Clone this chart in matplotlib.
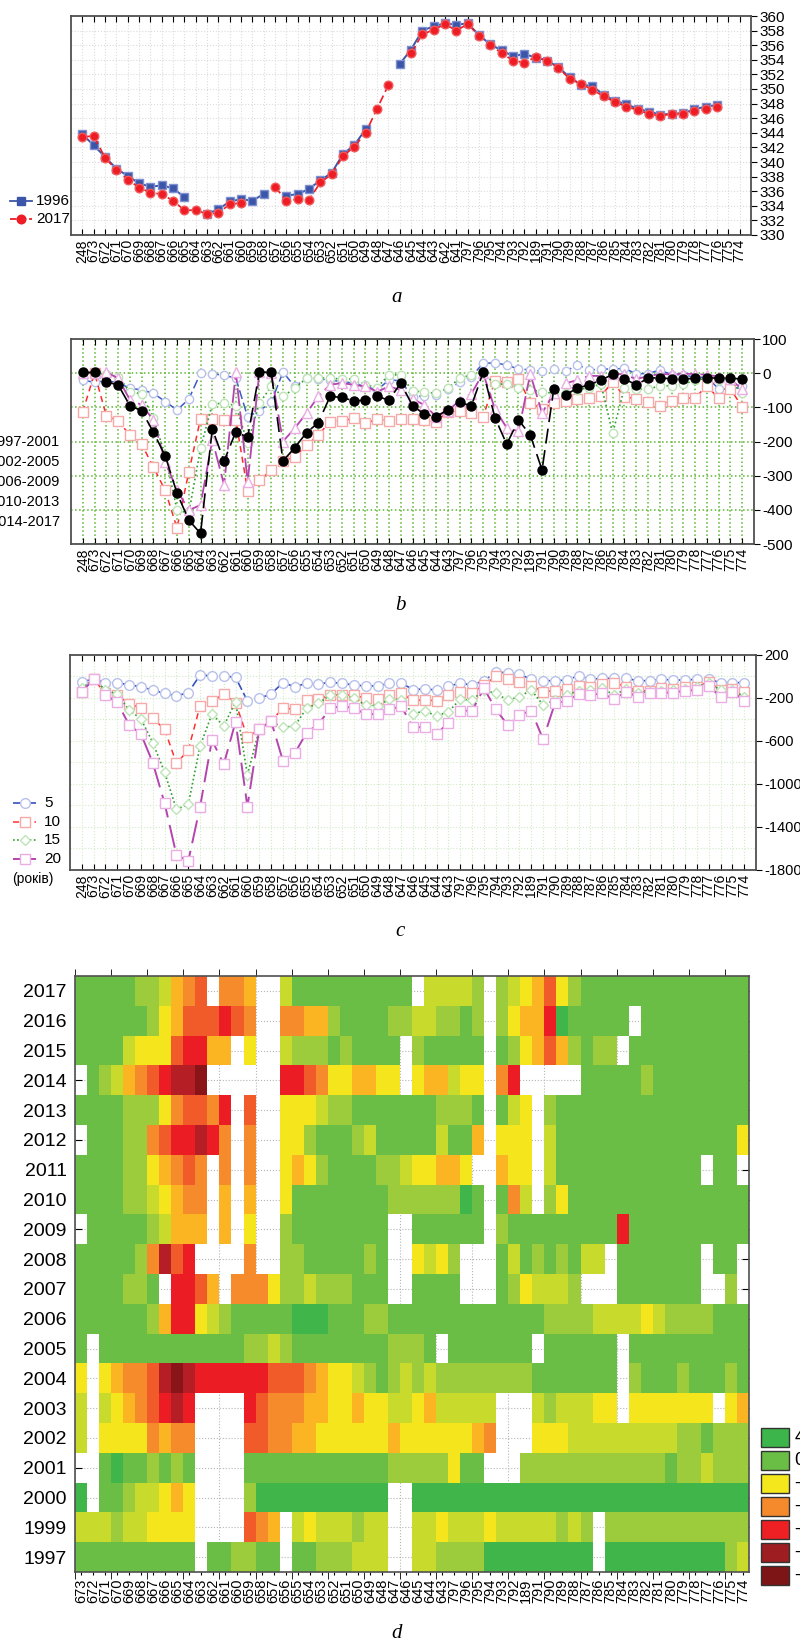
import numpy as np
import matplotlib.pyplot as plt
from matplotlib.colors import LinearSegmentedColormap
from matplotlib.lines import Line2D
from matplotlib.patches import Rectangle

nan = np.nan
W, H = 800, 1643

# benchmark labels along the levelling line
stations = ['248', '673', '672', '671', '670', '669', '668', '667', '666', '665',
            '664', '663', '662', '661', '660', '659', '658', '657', '656', '655',
            '654', '653', '652', '651', '650', '649', '648', '647', '646', '645',
            '644', '643', '797', '796', '795', '794', '793', '792', '189', '791',
            '790', '789', '788', '787', '786', '785', '784', '783', '782', '781',
            '780', '779', '778', '777', '776', '775', '774']
stations_a = stations[:32] + ['642', '641'] + stations[32:]

# panel a: heights, m
h1996 = [343.8, 342.3, 340.7, 339.1, 338.1, 337.1, 336.6, 336.8, 336.4, 335.2,
         nan, 332.9, 333.5, 334.6, 334.9, 334.7, 335.6, nan, 335.4, 335.6,
         336.3, 337.5, 338.5, 341.1, 342.3, 344.5, nan, nan, 353.4, 355.4,
         358.0, 358.6, 359.0, 358.8, 359.0, 357.4, 356.1, 355.3, 354.5, 354.8,
         354.3, 353.9, 353.0, 351.6, 350.6, 350.4, 349.2, 348.4, 347.9, 347.3,
         346.9, 346.5, 346.6, 346.7, 347.2, 347.6, 347.8]
h2017 = [343.4, 343.6, 340.6, 338.9, 337.6, 336.5, 335.8, 335.6, 334.7, 333.4,
         333.4, 332.9, 333.0, 334.2, 334.4, nan, nan, 336.6, 334.7, 334.9,
         334.8, 337.2, 338.3, 340.8, 342.1, 344.0, 347.3, 350.5, nan, 354.9,
         357.5, 358.1, 358.9, 358.0, 358.9, 357.3, 356.0, 354.9, 353.9, 353.6,
         354.4, 353.9, 352.9, 351.4, 350.7, 349.9, 349.0, 348.2, 347.6, 347.1,
         346.6, 346.3, 346.6, 346.6, 347.0, 347.2, 347.6]

# panel b: changes by period, mm
b_labels = ['1997-2001', '2002-2005', '2006-2009', '2010-2013', '2014-2017']
b_9701 = [-20, -27, -22, -28, -44, -49, -59, -83, -108, -76,
          0, -2, -6, -15, -128, -110, -85, 3, -39, -15,
          -17, -20, -25, -29, -39, -49, -20, -22, -70, -66,
          -63, -47, -27, -10, 29, 30, 24, 12, 10, 5,
          11, 5, 25, 9, 12, 12, 14, -2, -1, 9,
          -4, -5, -12, -12, -46, -47, -39]
b_0205 = [-113, 0, -125, -140, -181, -208, -275, -343, -453, -290,
          -133, -135, -137, -137, -344, -314, -284, -257, -245, -211,
          -181, -142, -140, -132, -147, -135, -139, -135, -135, -137,
          -142, -113, -111, -116, -127, -24, -25, -17, -86, -105,
          -87, -80, -75, -74, -66, -26, -69, -75, -83, -95,
          -80, -74, -72, -37, -74, -46, -99]
b_0609 = [-3, 0, -3, -10, -54, -61, -132, -240, -400, -410,
          -220, -90, -88, -95, -205, -88, -39, -68, -44, -15,
          -13, -15, -17, -17, -34, -42, -5, -5, -52, -55,
          -59, -44, -15, -5, 0, -32, -32, -42, -48, -55,
          -59, -59, -49, -42, -32, -176, -42, -47, -47, -37,
          -37, -33, -20, -16, -20, -20, -58]
b_1013 = [0, 0, 3, -15, -78, -93, -137, -259, -342, -401,
          -386, -195, -327, 3, -318, 3, 0, -200, -161, -117,
          -68, -34, -29, -34, -39, -54, -39, -49, -75, -93,
          -127, -110, -80, -60, 0, -105, -160, -170, -2, -117,
          -58, -30, -20, -8, -8, -2, -3, -18, -8, -3,
          -3, -2, -2, -5, -10, -18, -47]
b_1417 = [3, 2, -26, -34, -95, -110, -173, -242, -351, -430,
          -469, -164, -257, -171, -188, 3, 3, -257, -218, -174,
          -145, -68, -71, -81, -79, -68, -79, -29, -95, -120,
          -127, -107, -85, -96, 3, -130, -208, -137, -181, -283,
          -46, -63, -44, -34, -21, -3, -17, -34, -15, -13,
          -17, -17, -15, -13, -15, -15, -17]

# panel c: cumulative change over 5/10/15/20 years, mm
c_labels = ['5', '10', '15', '20']
c5 = [-48, -26, -57, -57, -79, -95, -126, -157, -181, -150,
      14, 5, 5, -8, -228, -203, -163, -57, -95, -64,
      -70, -54, -64, -79, -88, -88, -64, -60, -122, -116,
      -126, -88, -64, -79, -39, 39, 36, 20, -26, -39,
      -39, -33, 8, -26, -17, -17, -17, -39, -39, -26,
      -33, -33, -26, -26, -57, -57, -57]
c10 = [-141, -26, -157, -172, -256, -290, -389, -491, -808, -684,
       -271, -228, -166, -243, -566, -491, -414, -296, -302, -219,
       -212, -172, -172, -172, -203, -212, -172, -157, -222, -219,
       -225, -172, -141, -150, -79, 0, -26, -48, -88, -141,
       -132, -119, -88, -95, -70, -57, -95, -132, -132, -110,
       -119, -95, -95, -48, -126, -119, -141]
c15 = [-110, -26, -126, -166, -312, -395, -615, -891, -1236, -1189,
       -647, -349, -460, -234, -916, -491, -420, -473, -460, -296,
       -250, -172, -172, -203, -265, -274, -212, -215, -346, -321,
       -367, -327, -212, -219, -126, -157, -219, -188, -126, -265,
       -219, -172, -132, -126, -110, -172, -119, -150, -141, -132,
       -126, -119, -95, -57, -126, -126, -188]
c20 = [-141, -26, -172, -240, -451, -535, -802, -1180, -1660, -1716,
       -1211, -591, -817, -420, -1211, -491, -414, -783, -715, -522,
       -445, -296, -274, -296, -349, -349, -305, -278, -470, -473,
       -535, -429, -318, -318, -110, -305, -451, -358, -318, -584,
       -250, -228, -163, -172, -157, -212, -141, -188, -157, -150,
       -150, -132, -126, -88, -188, -141, -225]

# panel d: class of yearly change per benchmark ('.' = no data)
years = ['2017', '2016', '2015', '2014', '2013', '2012', '2011', '2010', '2009', '2008',
         '2007', '2006', '2005', '2004', '2003', '2002', '2001', '2000', '1999', '1997']
grid_rows = [
    "gggggllyoO" "r.OOo..ygg" "gggggggg.y" "yyyl.lyYor" "Ylgggggggg" "gggggg",
    "gggggglYor" "rrRrO..OOo" "olggggllyy" "llgl.lYooR" "Gggggg.ggg" "gggggg",
    "ggggyYYYrR" "Roo.Y..yll" "lglgggg.lg" "gggg.glYor" "olgll.gggg" "gggggg",
    ".glyoOrRdd" "D......RRr" "OYYooYY.Yo" "oyYY.OR..." "..ggggglgg" "gggggg",
    "gggglllYOr" "rOR.r..YYY" "yllggggggg" "lllg.gyY.l" "gggggggggg" "gggggg",
    ".gggllOrRR" "dRO.O..YYl" "ggglyggggg" "yggo.YYY.y" "gggggggggg" "gggggY",
    "ggggllYoOr" "O.O.O..YoY" "lggggllyYY" "ooY..oYY.y" "gggggggggg" "gg.gg.",
    "ggggllyYoO" "O.o.o..Ygg" "ggggggllll" "llGg.gOy.l" "Yggggggggg" "gggggg",
    ".ggggglyoo" "o.o.Y..lgg" "gggggg..gg" "gggg.lgggg" "gggggRgggg" "gggggg",
    "ggggglOdrR" "....O..llg" "gggglg..Yy" "Yl...gyglg" "lgyy.ggggg" "gg.gg.",
    "ggggllg.RR" "ro.OOOYlly" "lllggg..gg" "gg...glYyy" "yl...ggggg" "gg..l.",
    "ggggggloRR" "YylgggggGG" "Ggggllgggg" "gggggggggl" "lllyyyyYyl" "lllggg",
    "g.gggggggg" "ggggllylgg" "gggggglllg" ".ggggggg.g" "ggggg.gggg" "gggggg",
    "Y.YoOOrdDd" "RRRRRRrrrO" "oYYylglyly" "llllllllgg" "ggggg.lggg" "lggglg",
    "y.yYoOrRdR" "....RrOOOo" "oYYoYYyyYo" "yyyyy...yl" "yyyYY.YYYY" "YYY.Yo",
    "y.YYYYOoOO" "....rrOOoo" "YYYYYYoYYY" "YYYoO...YY" "Yyyyyyyyyy" "llglll",
    "..gGgglglg" "....gggggg" "ggggggllll" "lYgg...lll" "lllllllllg" "llylll",
    "G.gglyyYoY" "....lGGGGG" "GGGGGG..GG" "GGGGGGGGGG" "GGGGGGGGGG" "GGGGGG",
    "yyylyyYYYY" "....rOo.yY" "yyylyy..yy" "YyyyYyyyyy" "lyl.llllll" "llllll",
    "gggggggggg" ".ggllgg.gg" "lllyyy..yy" "llllGGGGGG" "GGG.GGGGGG" "GGGGly",
]
class_value = {'G': 4, 'g': 2, 'l': 1, 'y': 0, 'Y': -1, 'o': -1.5, 'O': -2,
               'r': -2.5, 'R': -3, 'd': -4, 'D': -5, '.': nan}
legend_d_colors = ['#3cb54a', '#6abd45', '#f4e81c', '#f58a2c', '#ee2024', '#9e1d20', '#7d1416']
legend_d_labels = ['4 – 8', '0 – 4', '-4 – 0', '-8 – -4', '-12 – -8', '-16 – -12', '-20 – -16']

REG = ['Liberation Sans', 'DejaVu Sans']
SERIF = ['Liberation Serif', 'DejaVu Serif']


def rect(l, t, r, b):
    return [l / W, 1 - b / H, (r - l) / W, (b - t) / H]


def fx(x):
    return x / W


def fy(y):
    return 1 - y / H


def line_axes(ax, labels, ylim, yticks, gcol, gls, glw, ysize=11):
    n = len(labels)
    ax.set_xlim(-1, n)
    ax.set_xticks(np.arange(n))
    ax.set_xticklabels(labels, rotation=90, fontfamily=REG, fontsize=10)
    ax.set_ylim(*ylim)
    ax.yaxis.tick_right()
    ax.set_yticks(yticks)
    ax.set_yticklabels([str(v) for v in yticks], fontfamily=REG, fontsize=ysize)
    ax.tick_params(axis='x', direction='in', length=4, top=True, bottom=True, pad=3, width=0.8)
    ax.tick_params(axis='y', direction='out', length=4, pad=2, left=False, right=True)
    for s in ax.spines.values():
        s.set_color('#505050')
        s.set_linewidth(1.3)
    ax.grid(True, which='both', color=gcol, linestyle=gls, linewidth=glw)
    ax.set_axisbelow(True)


fig = plt.figure(figsize=(8, 16.43), dpi=100)

# ---------------- panel a
ax = fig.add_axes(rect(71, 16, 751, 235))
xa = np.arange(len(h1996))
ax.plot(xa, h1996, '-s', color='#3b55a8', mfc='#3b55a8', mec='#7f90d2', ms=6.2, lw=1.4, zorder=3)
ax.plot(xa, h2017, '--o', color='#ee1d25', mfc='#ee1d25', mec='#f05a5a', ms=6.2, lw=1.2,
        dashes=(5, 2.5), zorder=4)
line_axes(ax, stations_a, (330, 360), list(range(330, 361, 2)), '#dcdcdc', ':', 0.8)

for y, col, ls, mk in [(201, '#3b55a8', '-', 's'), (219, '#ee1d25', '--', 'o')]:
    fig.add_artist(Line2D([fx(10), fx(32)], [fy(y), fy(y)], color=col, ls=ls, lw=1.3))
    fig.add_artist(Line2D([fx(21)], [fy(y)], color=col, marker=mk, ms=6.2, ls=''))
fig.text(fx(36), fy(201), '1996', fontfamily=REG, fontsize=11, va='center')
fig.text(fx(36), fy(219), '2017', fontfamily=REG, fontsize=11, va='center')
fig.text(fx(397), fy(297), 'a', fontfamily=SERIF, style='italic', fontsize=15, ha='center', va='center')

# ---------------- panel b
ax = fig.add_axes(rect(71, 339, 754, 544))
xb = np.arange(len(stations))
ax.plot(xb, b_9701, '--o', color='#3a5cc4', mfc='white', mec='#b9c1ea', ms=6, lw=1.1, dashes=(6, 2.5))
ax.plot(xb, b_0205, '--s', color='#ff2a2a', mfc='white', mec='#f6a9a9', ms=6.5, lw=1.1, dashes=(4, 3))
ax.plot(xb, b_0609, ':o', color='#2c9e2c', mfc='white', mec='#bde3b6', ms=6, lw=1.2)
ax.plot(xb, b_1013, '--^', color='#b444ae', mfc='white', mec='#eaaee4', ms=6.5, lw=1.3, dashes=(10, 3))
ax.plot(xb, b_1417, '--o', color='black', mfc='black', mec='black', ms=6.5, lw=1.2, dashes=(9, 4))
line_axes(ax, stations, (-500, 100), [100, 0, -100, -200, -300, -400, -500], '#5cb531', ':', 1.1)

for i, lab in enumerate(b_labels):
    fig.text(fx(60), fy(442 + 20 * i), lab, fontfamily=REG, fontsize=10.5, ha='right', va='center')
fig.text(fx(400), fy(606), 'b', fontfamily=SERIF, style='italic', fontsize=15, ha='center', va='center')

# ---------------- panel c
ax = fig.add_axes(rect(70, 655, 756, 870))
styles_c = [
    dict(fmt='--o', color='#3552c0', mec='#b9c1ea', ms=7, lw=1.2, dashes=(8, 2)),
    dict(fmt='--s', color='#ff3030', mec='#f6a9a9', ms=7, lw=1.1, dashes=(4, 3)),
    dict(fmt=':D', color='#2c9e2c', mec='#bde3b6', ms=5, lw=1.2, dashes=(1, 1.5)),
    dict(fmt='--s', color='#b444ae', mec='#eaaee4', ms=7, lw=1.4, dashes=(12, 4)),
]
for series, st in zip([c5, c10, c15, c20], styles_c):
    ax.plot(xb, series, st['fmt'], color=st['color'], mfc='white', mec=st['mec'],
            ms=st['ms'], lw=st['lw'], dashes=st['dashes'])
line_axes(ax, stations, (-1800, 200), [200, -200, -600, -1000, -1400, -1800], '#d3eac6', ':', 0.8,
          ysize=10.5)
ax.set_yticks([0, -400, -800, -1200, -1600], minor=True)
ax.tick_params(axis='y', which='minor', length=0)

for i, (lab, st) in enumerate(zip(c_labels, styles_c)):
    y = 803 + 18.7 * i
    fig.add_artist(Line2D([fx(13), fx(36)], [fy(y), fy(y)], color=st['color'], lw=st['lw'],
                          ls='--', dashes=st['dashes']))
    fig.add_artist(Line2D([fx(24.5)], [fy(y)], marker=st['fmt'][-1], mfc='white', mec=st['mec'],
                          ms=st['ms'], ls=''))
    fig.text(fx(44), fy(y), lab, fontfamily=REG, fontsize=11, va='center')
fig.text(fx(12), fy(879), '(років)', fontfamily=REG, fontsize=10, va='center')
fig.text(fx(400), fy(931), 'c', fontfamily=SERIF, style='italic', fontsize=15, ha='center', va='center')

# ---------------- panel d
ax = fig.add_axes(rect(75, 976, 749, 1572))
Z = np.array([[class_value[ch] for ch in row] for row in grid_rows])
nodes = [(-5, '#8a1518'), (-4, '#b51e24'), (-3, '#ec1c24'), (-2.5, '#f15a29'), (-2, '#f68b2c'),
         (-1.5, '#fbb522'), (-1, '#f4e61c'), (0, '#c9db2c'), (1, '#9ccb3b'), (2, '#6bbe45'),
         (4, '#40b54a')]
cmap = LinearSegmentedColormap.from_list('zone', [((v + 5) / 9, c) for v, c in nodes])
ncol, nrow = Z.shape[1], Z.shape[0]
for j in range(0, ncol + 1, 3):
    ax.axvline(j, color='#b5b5b5', ls=':', lw=0.8, zorder=1)
for i in range(nrow):
    ax.axhline(i + 0.5, color='#b5b5b5', ls=':', lw=0.8, zorder=1)
ax.pcolormesh(np.arange(ncol + 1), np.arange(nrow + 1), np.ma.masked_invalid(Z),
              cmap=cmap, vmin=-5, vmax=4, zorder=2)
ax.set_xlim(0, ncol)
ax.set_ylim(nrow, 0)
ax.set_yticks(np.arange(nrow) + 0.5)
ax.set_yticklabels(years, fontfamily=REG, fontsize=14)
ax.set_xticks(np.arange(ncol) + 0.5)
ax.set_xticklabels(stations[1:], rotation=90, fontfamily=REG, fontsize=10.5)
ax.set_xticks(np.arange(0, ncol + 1, 3), minor=True)
ax.tick_params(axis='y', direction='in', length=5, left=True, right=True, pad=6)
ax.tick_params(axis='x', which='major', direction='out', length=2, pad=3)
ax.tick_params(axis='x', which='minor', direction='out', length=5, top=True)
for s in ax.spines.values():
    s.set_color('#505050')
    s.set_linewidth(1.2)
    s.set_zorder(3)

for i, (col, lab) in enumerate(zip(legend_d_colors, legend_d_labels)):
    top = 1428 + 23 * i
    fig.add_artist(Rectangle((fx(761), fy(top + 19)), 28 / W, 19 / H, transform=fig.transFigure,
                             facecolor=col, edgecolor='#333333', lw=1.0))
    fig.text(fx(795), fy(top + 9.5), lab, fontfamily=REG, fontsize=13, va='center')
fig.text(fx(397), fy(1634), 'd', fontfamily=SERIF, style='italic', fontsize=15, ha='center', va='center')

fig.savefig('out.png', dpi=100)
